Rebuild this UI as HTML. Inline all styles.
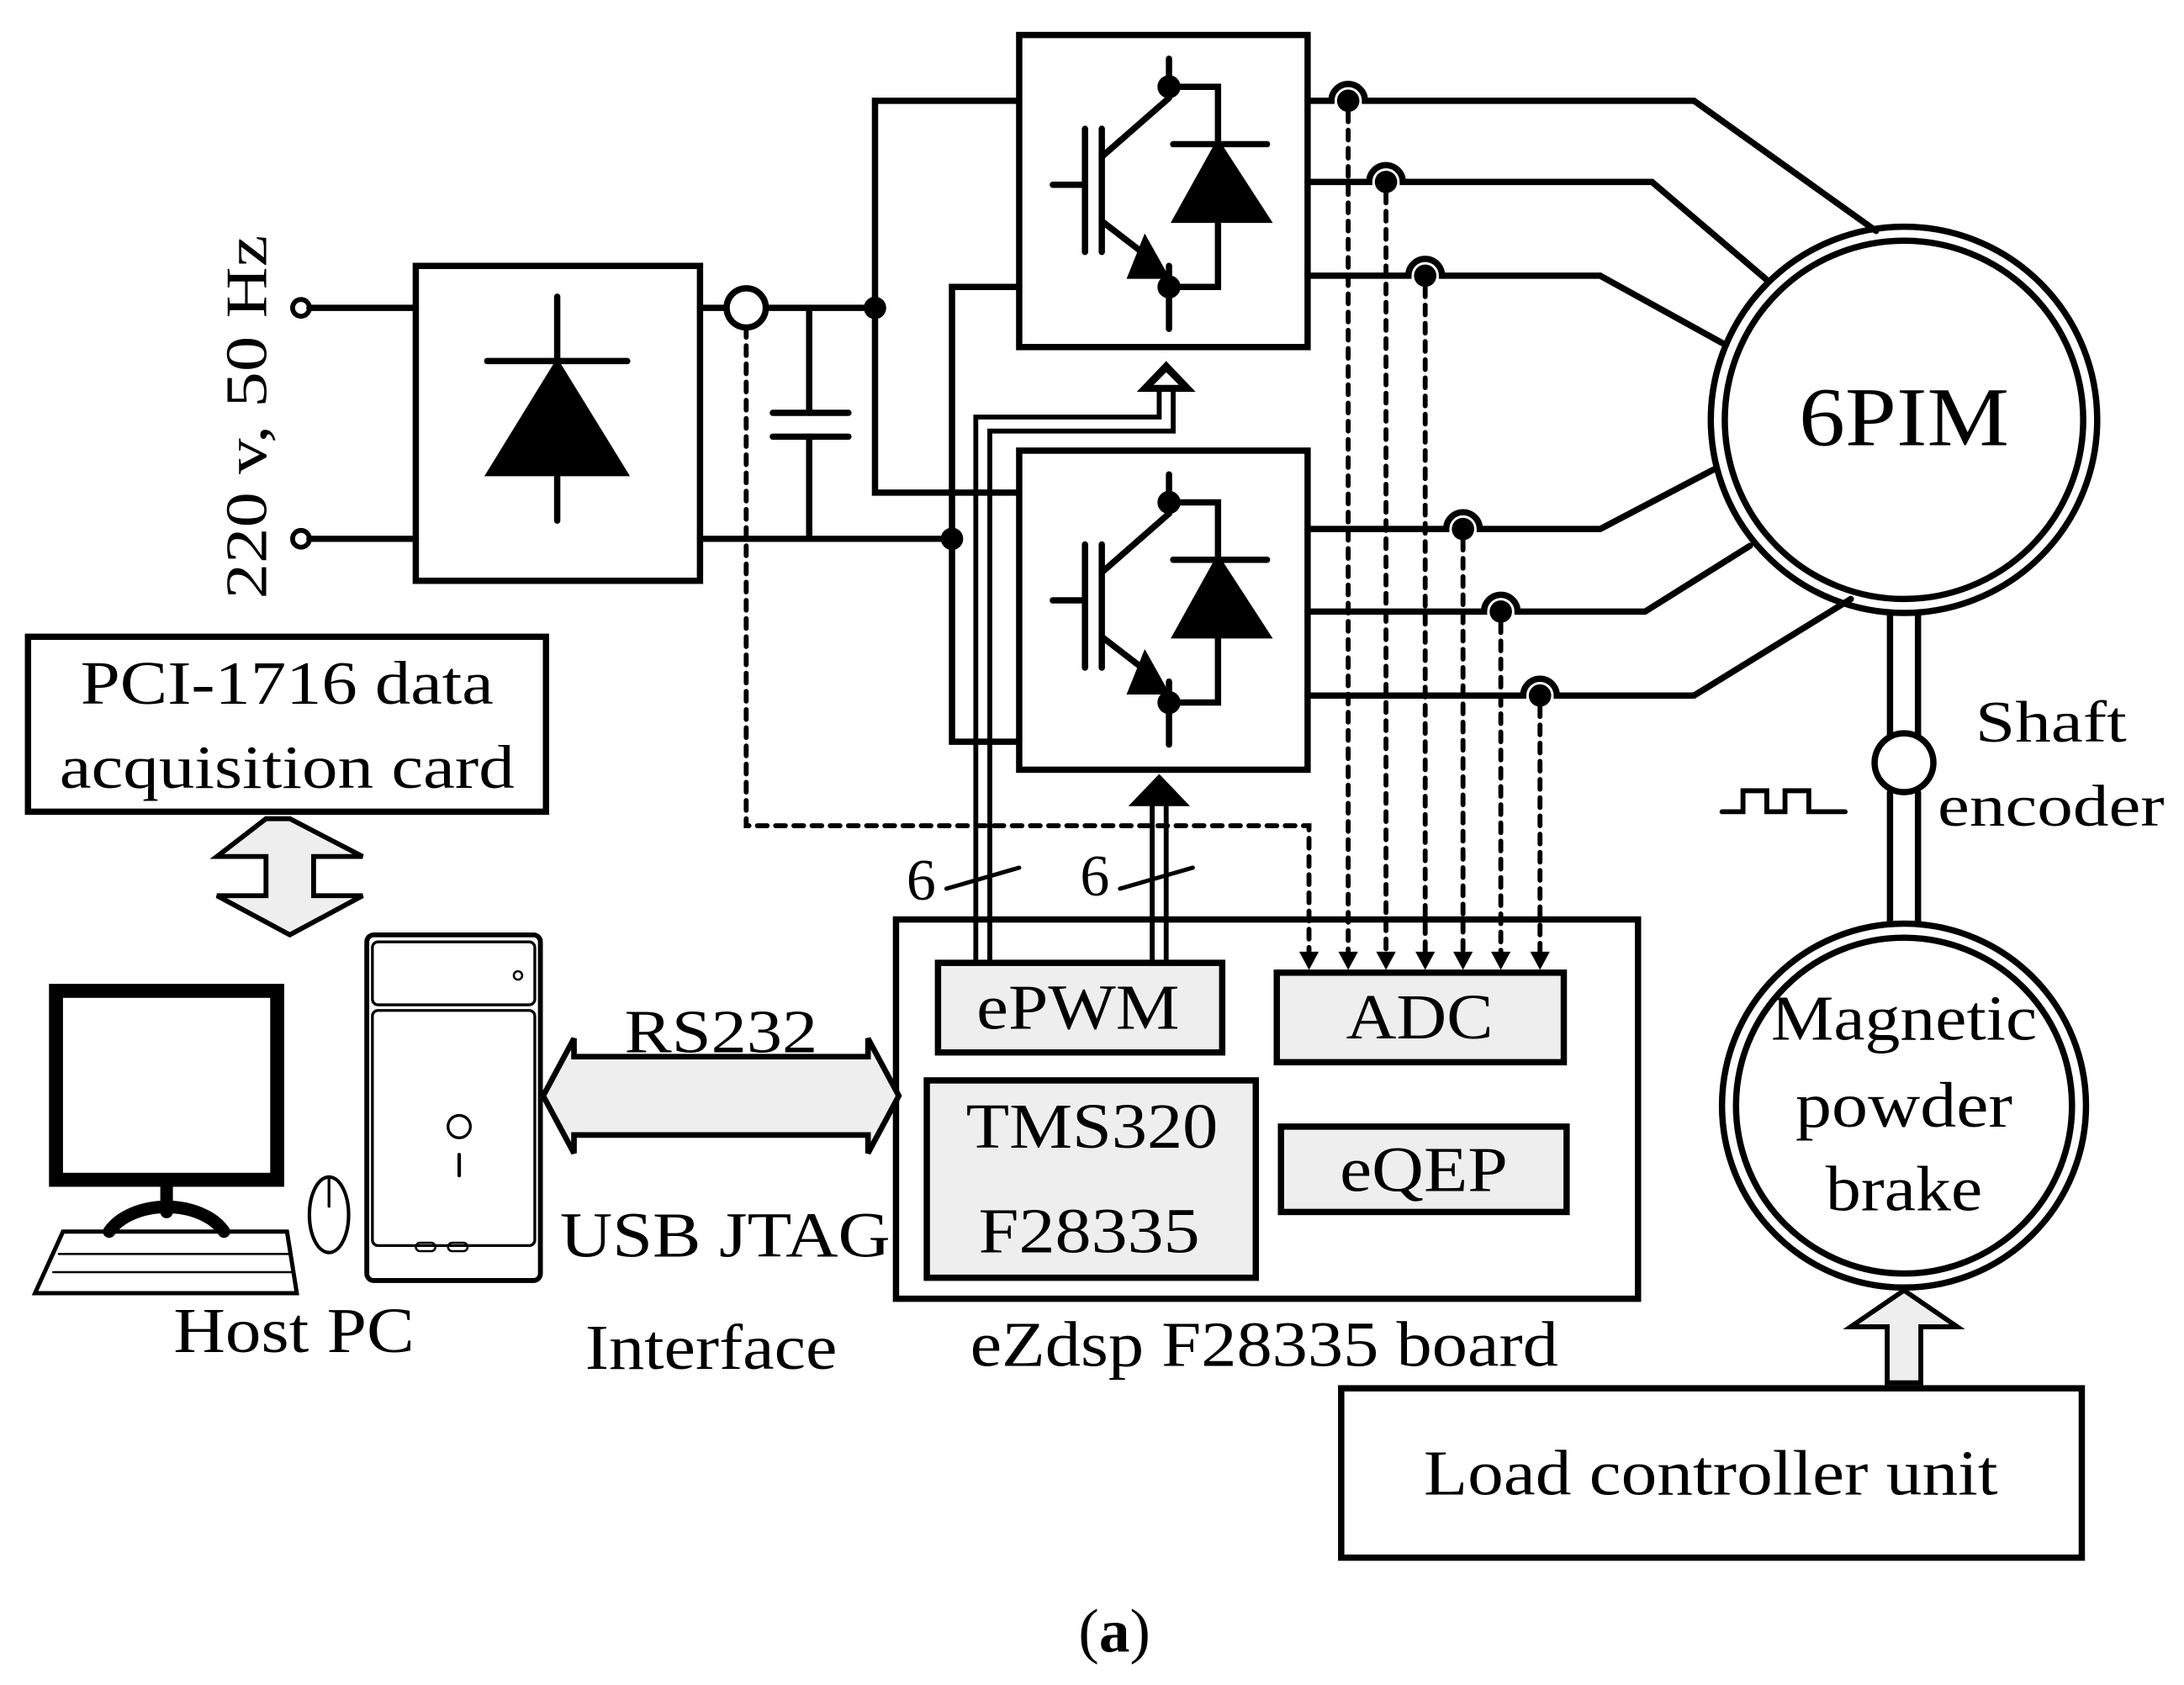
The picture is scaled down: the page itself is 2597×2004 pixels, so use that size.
<!DOCTYPE html>
<html><head><meta charset="utf-8"><style>html,body{margin:0;padding:0;background:#fff}svg{display:block}text{font-family:"Liberation Serif",serif}</style></head>
<body>
<svg width="2597" height="2004" viewBox="0 0 1560 1204" preserveAspectRatio="none" xmlns="http://www.w3.org/2000/svg">
<defs>
<g id="igbt">
  <line x1="752" y1="132" x2="775" y2="132"/>
  <line x1="775" y1="92" x2="775" y2="180"/>
  <line x1="787" y1="92" x2="787" y2="180"/>
  <line x1="787" y1="112" x2="835" y2="70"/>
  <line x1="835" y1="42" x2="835" y2="70"/>
  <line x1="787" y1="158" x2="822" y2="185"/>
  <polygon points="818,172 832,197 808,197" fill="#000"/>
  <line x1="835" y1="190" x2="835" y2="235"/>
  <circle cx="835" cy="62" r="6" fill="#000"/>
  <circle cx="835" cy="205" r="6" fill="#000"/>
  <polyline points="835,62 870,62 870,205 835,205" fill="none"/>
  <line x1="838" y1="103" x2="905" y2="103"/>
  <polygon points="870,103 840,157 905,157" fill="#000"/>
</g>
</defs>
<g stroke="#000" stroke-width="4.5" fill="none" stroke-linecap="round">
  <circle cx="215" cy="220" r="6" stroke-width="3.5"/>
  <circle cx="215" cy="385" r="6" stroke-width="3.5"/>
  <line x1="221" y1="220" x2="297" y2="220"/>
  <line x1="221" y1="385" x2="297" y2="385"/>
  <rect x="297" y="190" width="203" height="225"/>
  <line x1="398" y1="212" x2="398" y2="372"/>
  <line x1="348" y1="258" x2="448" y2="258"/>
  <polygon points="398,260 350,338 446,338" fill="#000"/>
  <line x1="500" y1="220" x2="519" y2="220"/>
  <circle cx="533" cy="220" r="14"/>
  <line x1="547" y1="220" x2="625" y2="220"/>
  <line x1="500" y1="385" x2="680" y2="385"/>
  <line x1="578" y1="220" x2="578" y2="295"/>
  <line x1="552" y1="295" x2="606" y2="295"/>
  <line x1="552" y1="312" x2="606" y2="312"/>
  <line x1="578" y1="312" x2="578" y2="385"/>
  <polyline points="728,72 625,72 625,352 728,352"/>
  <polyline points="728,205 680,205 680,530 728,530"/>
  <rect x="728" y="25" width="206" height="223"/>
  <rect x="728" y="322" width="206" height="228"/>
  <use href="#igbt"/>
  <use href="#igbt" transform="translate(0,297)"/>
  <path d="M934,72 H951 A12,12 0 0 1 975,72 H1210 L1340,165"/>
  <path d="M934,130 H978 A12,12 0 0 1 1002,130 H1180 L1262,200"/>
  <path d="M934,197 H1006 A12,12 0 0 1 1030,197 H1143 L1230,245"/>
  <path d="M934,378 H1033 A12,12 0 0 1 1057,378 H1143 L1225,335"/>
  <path d="M934,437 H1060 A12,12 0 0 1 1084,437 H1175 L1250,390"/>
  <path d="M934,497 H1088 A12,12 0 0 1 1112,497 H1210 L1322,428"/>
  <circle cx="1360" cy="300" r="138"/>
  <circle cx="1360" cy="300" r="128"/>
  <line x1="1350" y1="438" x2="1350" y2="525"/>
  <line x1="1370" y1="438" x2="1370" y2="525"/>
  <circle cx="1360" cy="545" r="21"/>
  <line x1="1350" y1="566" x2="1350" y2="660"/>
  <line x1="1370" y1="566" x2="1370" y2="660"/>
  <circle cx="1360" cy="790" r="130"/>
  <circle cx="1360" cy="790" r="120"/>
  <polyline points="1230,580 1245,580 1245,565 1262,565 1262,580 1275,580 1275,565 1292,565 1292,580 1318,580" stroke-width="3.5"/>
  <rect x="958" y="992" width="529" height="121"/>
  <polygon points="1348,988 1348,948 1322,948 1360,922 1398,948 1372,948 1372,988" fill="#eee" stroke-width="3.5"/>
  <rect x="640" y="657" width="530" height="271"/>
  <rect x="670" y="688" width="203" height="64" fill="#eee"/>
  <rect x="912" y="695" width="205" height="64" fill="#eee"/>
  <rect x="662" y="772" width="235" height="141" fill="#eee"/>
  <rect x="915" y="805" width="204" height="61" fill="#eee"/>
  <g stroke-dasharray="7,6" stroke-width="3.5">
    <polyline points="533,234 533,590 935,590 935,680"/>
    <line x1="963" y1="80" x2="963" y2="680"/>
    <line x1="990" y1="138" x2="990" y2="680"/>
    <line x1="1018" y1="205" x2="1018" y2="680"/>
    <line x1="1045" y1="386" x2="1045" y2="680"/>
    <line x1="1072" y1="445" x2="1072" y2="680"/>
    <line x1="1100" y1="505" x2="1100" y2="680"/>
  </g>
  <polyline points="697,688 697,298 828,298 828,278" stroke-width="3.5"/>
  <polyline points="707,688 707,308 838,308 838,278" stroke-width="3.5"/>
  <line x1="823" y1="688" x2="823" y2="575" stroke-width="3.5"/>
  <line x1="833" y1="688" x2="833" y2="575" stroke-width="3.5"/>
  <line x1="676" y1="635" x2="728" y2="620" stroke-width="3"/>
  <line x1="800" y1="635" x2="852" y2="620" stroke-width="3"/>
  <rect x="20" y="455" width="370" height="125"/>
  <polygon points="190,585 155,612 190,612 190,640 155,640 207,668 259,640 224,640 224,612 259,612 207,585" fill="#eee" stroke-width="3.5"/>
  <polygon points="388,783 410,742 410,755 620,755 620,742 642,783 620,824 620,811 410,811 410,824" fill="#eee" stroke-width="4"/>
  <rect x="40" y="708" width="158" height="135" stroke-width="10"/>
  <line x1="119" y1="843" x2="119" y2="866" stroke-width="9"/>
  <path d="M78,880 A45,30 0 0 1 160,880" stroke-width="9"/>
  <polygon points="45,880 205,880 212,924 25,924" stroke-width="3"/>
  <line x1="42" y1="896" x2="207" y2="896" stroke-width="1.5"/>
  <line x1="38" y1="909" x2="209" y2="909" stroke-width="1.5"/>
  <ellipse cx="235" cy="868" rx="14" ry="27" stroke-width="2.5"/>
  <line x1="235" y1="842" x2="235" y2="862" stroke-width="2"/>
  <rect x="262" y="668" width="124" height="247" rx="5" stroke-width="3.5"/>
  <rect x="266" y="673" width="116" height="45" rx="4" stroke-width="2"/>
  <rect x="266" y="722" width="116" height="168" rx="4" stroke-width="2"/>
  <circle cx="370" cy="697" r="3" stroke-width="1.5"/>
  <circle cx="328" cy="805" r="8" stroke-width="2"/>
  <line x1="328" y1="825" x2="328" y2="840" stroke-width="2.5"/>
  <rect x="297" y="888" width="14" height="6" rx="3" stroke-width="1.5"/>
  <rect x="320" y="888" width="14" height="6" rx="3" stroke-width="1.5"/>
</g>
<g fill="#000">
  <circle cx="625" cy="220" r="8"/>
  <circle cx="680" cy="385" r="8"/>
  <circle cx="963" cy="72" r="8"/><circle cx="990" cy="130" r="8"/><circle cx="1018" cy="197" r="8"/>
  <circle cx="1045" cy="378" r="8"/><circle cx="1072" cy="437" r="8"/><circle cx="1100" cy="497" r="8"/>
  <polygon points="935,693 928,680 942,680"/><polygon points="963,693 956,680 970,680"/><polygon points="990,693 983,680 997,680"/>
  <polygon points="1018,693 1011,680 1025,680"/><polygon points="1045,693 1038,680 1052,680"/><polygon points="1072,693 1065,680 1079,680"/><polygon points="1100,693 1093,680 1107,680"/>
  <polygon points="833,258 812,280 854,280"/>
  <polygon points="828,553 806,576 850,576"/>
</g>
<polygon points="833,266 824,275 842,275" fill="#fff"/>
<g font-size="46" text-anchor="middle" fill="#000">
  <text x="0" y="0" transform="translate(190,298) rotate(-90)" font-size="42" textLength="260" lengthAdjust="spacingAndGlyphs">220 v, 50 Hz</text>
  <text x="1360" y="318" font-size="60" textLength="150" lengthAdjust="spacingAndGlyphs">6PIM</text>
  <text x="1360" y="743" textLength="190" lengthAdjust="spacingAndGlyphs">Magnetic</text>
  <text x="1360" y="805" textLength="155" lengthAdjust="spacingAndGlyphs">powder</text>
  <text x="1360" y="865" textLength="112" lengthAdjust="spacingAndGlyphs">brake</text>
  <text x="1465" y="530" font-size="42" textLength="108" lengthAdjust="spacingAndGlyphs">Shaft</text>
  <text x="1465" y="590" font-size="42" textLength="162" lengthAdjust="spacingAndGlyphs">encoder</text>
  <text x="1222" y="1068" textLength="410" lengthAdjust="spacingAndGlyphs">Load controller unit</text>
  <text x="205" y="503" font-size="44" textLength="295" lengthAdjust="spacingAndGlyphs">PCI-1716 data</text>
  <text x="205" y="563" font-size="44" textLength="325" lengthAdjust="spacingAndGlyphs">acquisition card</text>
  <text x="770" y="735" textLength="145" lengthAdjust="spacingAndGlyphs">ePWM</text>
  <text x="1014" y="742" textLength="105" lengthAdjust="spacingAndGlyphs">ADC</text>
  <text x="1017" y="851" textLength="120" lengthAdjust="spacingAndGlyphs">eQEP</text>
  <text x="780" y="820" textLength="180" lengthAdjust="spacingAndGlyphs">TMS320</text>
  <text x="778" y="895" textLength="158" lengthAdjust="spacingAndGlyphs">F28335</text>
  <text x="515" y="752" font-size="44" textLength="138" lengthAdjust="spacingAndGlyphs">RS232</text>
  <text x="518" y="898" textLength="236" lengthAdjust="spacingAndGlyphs">USB JTAG</text>
  <text x="508" y="978" textLength="180" lengthAdjust="spacingAndGlyphs">Interface</text>
  <text x="210" y="966" textLength="172" lengthAdjust="spacingAndGlyphs">Host PC</text>
  <text x="903" y="976" textLength="420" lengthAdjust="spacingAndGlyphs">eZdsp F28335 board</text>
  <text x="658" y="643" font-size="42">6</text>
  <text x="782" y="640" font-size="42">6</text>
  <text x="796" y="1180" font-size="44">(<tspan font-weight="bold">a</tspan>)</text>
</g>
</svg>
</body></html>
